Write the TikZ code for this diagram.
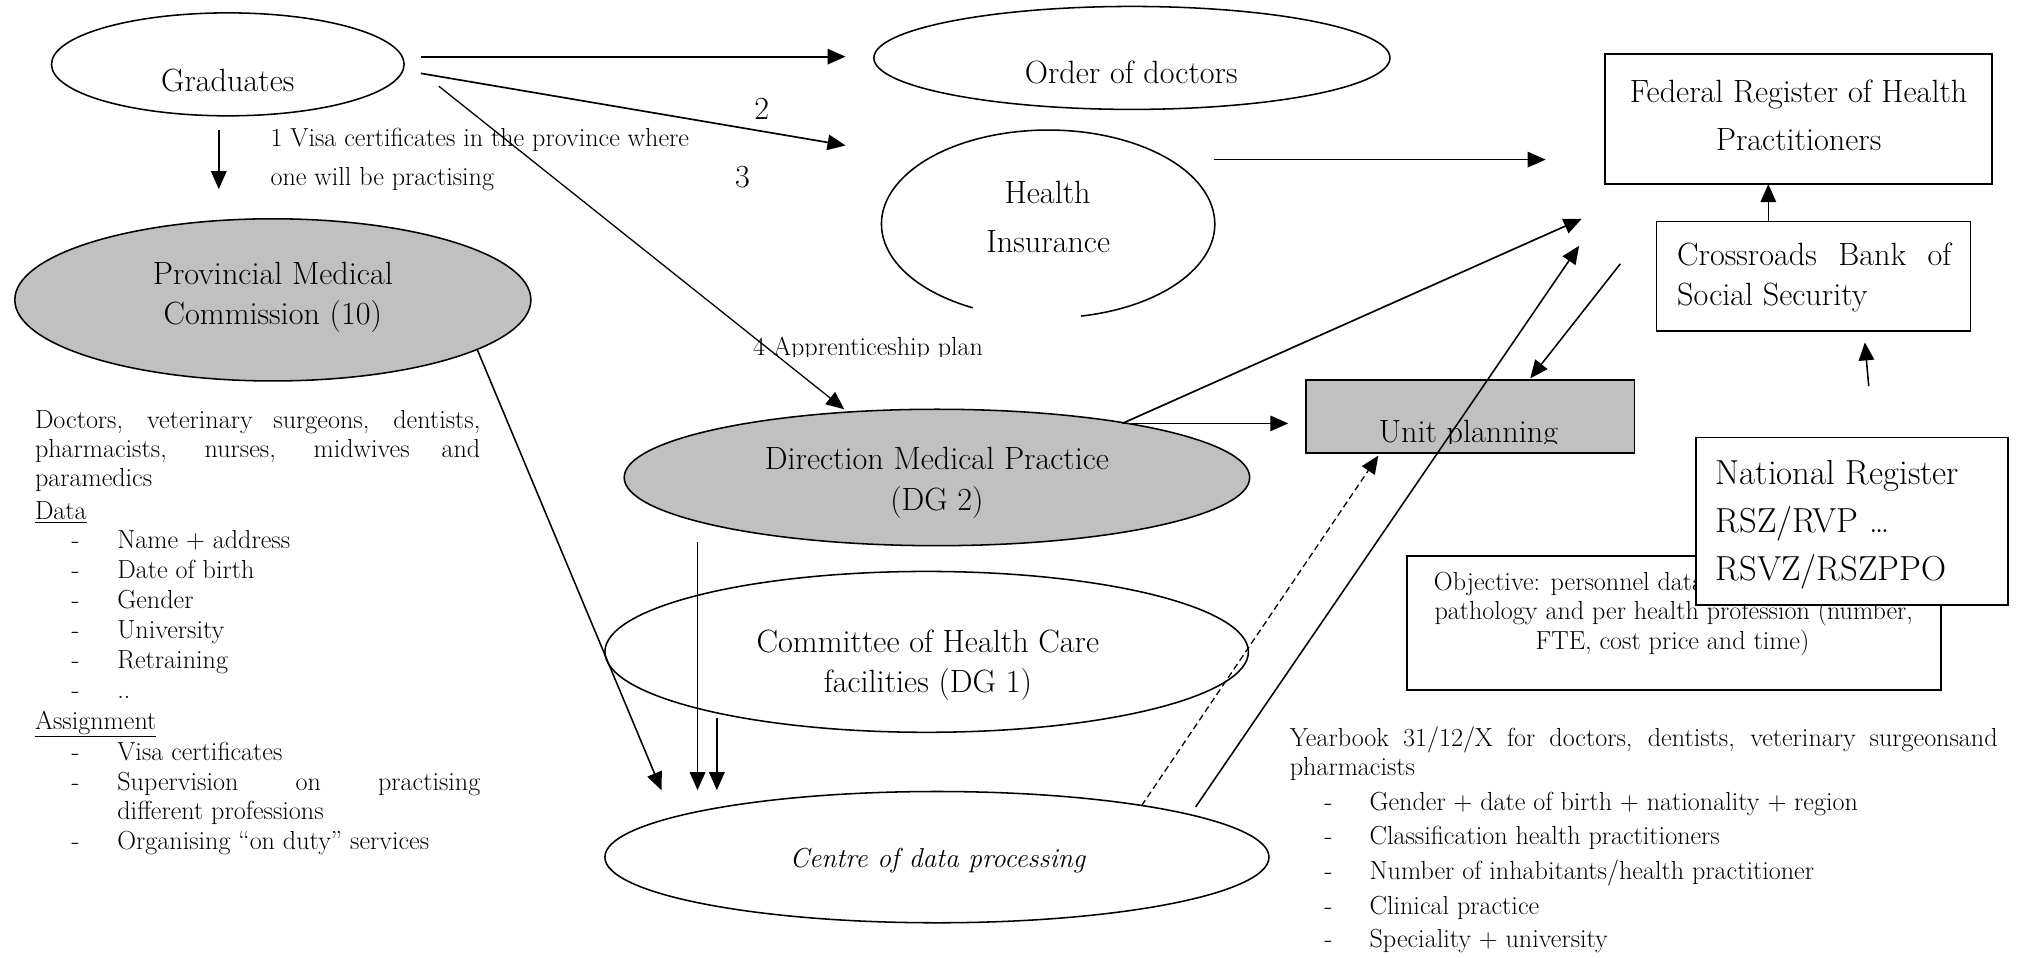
\documentclass[tikz,border=0pt]{standalone}
\usetikzlibrary{arrows.meta,shapes.geometric}
\definecolor{silv}{RGB}{192,192,192}
\newcommand\myBig{\fontsize{25}{30}\selectfont}
\newcommand\myIt{\fontsize{21.3}{26}\selectfont\itshape}
\newcommand\mySmall{\fontsize{20.3}{24}\selectfont}
\newcommand\myNat{\fontsize{27}{32}\selectfont}
\tikzset{
  ell/.style={draw, ellipse, inner sep=0pt, line width=1.2pt},
  box/.style={draw, rectangle, inner sep=0pt, line width=1.3pt},
  txt/.style={inner sep=0pt, anchor=base},
  ltxt/.style={inner sep=0pt, anchor=base west},
  arr/.style={-{Triangle[length=14pt,width=12pt]}, line width=1.4pt},
  thinarr/.style={-{Triangle[length=14pt,width=12pt]}, line width=1pt},
  dasharr/.style={thinarr, dash pattern=on 5pt off 3pt},
}
\begin{document}
\begin{tikzpicture}[x=1pt,y=-1pt]
\useasboundingbox (0,0) rectangle (1568,744);

% ---------- ellipses ----------
\node[ell, minimum width=274pt, minimum height=80pt] (grad) at (177,50) {};
\node[ell, minimum width=401pt, minimum height=80pt] (order) at (879.5,45) {};
\node[ellipse, inner sep=0pt, minimum width=259pt, minimum height=146pt] (hins) at (814.5,174) {};
\draw[line width=1.2pt] (840,245.6) arc[start angle=281.4, end angle=603.1, x radius=129.5pt, y radius=73pt];
\node[ell, fill=silv, minimum width=401pt, minimum height=126pt] (prov) at (212,233) {};
\node[ell, fill=silv, minimum width=486pt, minimum height=106pt] (dir) at (728,371) {};
\node[ell, minimum width=500pt, minimum height=125pt] (comm) at (720,506.5) {};
\node[ell, minimum width=516pt, minimum height=102pt] (cdp) at (728,666) {};

% ---------- boxes ----------
\node[box, minimum width=301pt, minimum height=101pt] (fed) at (1397.5,92.5) {};
\node[box, minimum width=244pt, minimum height=85pt] (cbss) at (1409,214.5) {};
\node[box, fill=silv, minimum width=255pt, minimum height=57pt] (unit) at (1142.5,323.5) {};
\node[box, minimum width=415pt, minimum height=104pt] (obj) at (1300.5,484) {};

% ---------- node texts ----------
\node[txt] (gradT) at (177,71) {\myBig Graduates};
\node[txt] (orderT) at (879,64.5) {\myBig Order of doctors};
\node[txt] (hinsT1) at (814,158.5) {\myBig Health};
\node[txt] (hinsT2) at (814.5,196) {\myBig Insurance};
\node[txt] (fedT1) at (1397.5,80) {\myBig Federal Register of Health};
\node[txt] (fedT2) at (1397.5,117) {\myBig Practitioners};
\node[ltxt] (cbssT1) at (1303,206) {\myBig\hbox to 213pt{Crossroads\hfill Bank\hfill of}};
\node[ltxt] (cbssT2) at (1303,237) {\myBig Social Security};
\node[txt] (provT1) at (212,221) {\myBig Provincial Medical};
\node[txt] (provT2) at (212,252) {\myBig Commission (10)};
\node[txt] (dirT1) at (728,365) {\myBig Direction Medical Practice};
\node[txt] (dirT2) at (728,397) {\myBig (DG 2)};
\node[txt] (commT1) at (721,507) {\myBig Committee of Health Care};
\node[txt] (commT2) at (721,538) {\myBig facilities (DG 1)};
\node[txt] (cdpT) at (728.5,674) {\myIt Centre of data processing};
\begin{scope}
  \clip (1016,296) rectangle (1269,344.3);
  \node[txt] (unitT) at (1141,343.5) {\myBig Unit planning};
\end{scope}

% objective box text
\node[ltxt] (objT1) at (1114,459) {\mySmall Objective: personnel data};
\node[txt] (objT2) at (1300.5,481.5) {\mySmall pathology and per health profession (number,};
\node[txt] (objT3) at (1299.5,505) {\mySmall FTE, cost price and time)};

% national register box on top
\node[box, fill=white, minimum width=242pt, minimum height=130pt] (nat) at (1439,405) {};
\node[ltxt] (natT1) at (1333,376.6) {\myNat National Register};
\node[ltxt] (natT2) at (1333,414) {\myNat RSZ/RVP \dots};
\node[ltxt] (natT3) at (1333,451) {\myNat RSVZ/RSZPPO};

% ---------- connector labels ----------
\node[ltxt] (lab1a) at (210,113.5) {\mySmall 1 Visa certificates in the province where};
\node[ltxt] (lab1b) at (210,144) {\mySmall one will be practising};
\node[ltxt] (lab2) at (586,93) {\myBig 2};
\node[ltxt] (lab3) at (571,145.5) {\myBig 3};
\begin{scope}
  \clip (580,250) rectangle (790,276.8);
  \node[ltxt] (lab4) at (585,276.5) {\mySmall 4 Apprenticeship plan};
\end{scope}

% ---------- left text block ----------
\node[ltxt] (l1) at (27,332.7) {\mySmall\hbox to 346pt{Doctors, veterinary surgeons, dentists,}};
\node[ltxt] (l2) at (27,355.4) {\mySmall\hbox to 346pt{pharmacists, nurses, midwives and}};
\node[ltxt] (l3) at (27,377.7) {\mySmall paramedics};
\node[ltxt] (l4) at (27,404) {\mySmall\underline{Data}};
\node[ltxt] (ld1) at (55.5,426) {\mySmall -};
\node[ltxt] (li1) at (91,426) {\mySmall Name + address};
\node[ltxt] (ld2) at (55.5,449.5) {\mySmall -};
\node[ltxt] (li2) at (91,449.5) {\mySmall Date of birth};
\node[ltxt] (ld3) at (55.5,472.8) {\mySmall -};
\node[ltxt] (li3) at (91,472.8) {\mySmall Gender};
\node[ltxt] (ld4) at (55.5,496) {\mySmall -};
\node[ltxt] (li4) at (91,496) {\mySmall University};
\node[ltxt] (ld5) at (55.5,519.4) {\mySmall -};
\node[ltxt] (li5) at (91,519.4) {\mySmall Retraining};
\node[ltxt] (ld6) at (55.5,542.7) {\mySmall -};
\node[ltxt] (li6) at (91,542.7) {\mySmall ..};
\node[ltxt] (l5) at (27,566.8) {\mySmall\underline{Assignment}};
\node[ltxt] (ld7) at (55.5,590.7) {\mySmall -};
\node[ltxt] (li7) at (91,590.7) {\mySmall Visa certificates};
\node[ltxt] (ld8) at (55.5,614) {\mySmall -};
\node[ltxt] (li8) at (91,614) {\mySmall\hbox to 282pt{Supervision\hfill on\hfill practising}};
\node[ltxt] (li8b) at (91,636.8) {\mySmall different professions};
\node[ltxt] (ld9) at (55.5,660) {\mySmall -};
\node[ltxt] (li9) at (91,660) {\mySmall Organising “on duty” services};

% ---------- yearbook text block ----------
\node[ltxt] (y1) at (1002,579.7) {\mySmall\hbox to 550pt{Yearbook 31/12/X for doctors, dentists, veterinary surgeonsand}};
\node[ltxt] (y2) at (1002,602.7) {\mySmall pharmacists};
\node[ltxt] (yd1) at (1029,630) {\mySmall -};
\node[ltxt] (yi1) at (1064,630) {\mySmall Gender + date of birth + nationality + region};
\node[ltxt] (yd2) at (1029,656.4) {\mySmall -};
\node[ltxt] (yi2) at (1064,656.4) {\mySmall Classification health practitioners};
\node[ltxt] (yd3) at (1029,683) {\mySmall -};
\node[ltxt] (yi3) at (1064,683) {\mySmall Number of inhabitants/health practitioner};
\node[ltxt] (yd4) at (1029,710.5) {\mySmall -};
\node[ltxt] (yi4) at (1064,710.5) {\mySmall Clinical practice};
\node[ltxt] (yd5) at (1029,736) {\mySmall -};
\node[ltxt] (yi5) at (1064,736) {\mySmall Speciality + university};

% ---------- connector end points ----------
\coordinate (aS) at (327,44);   \coordinate (aE) at (657,44);
\coordinate (bS) at (327,57);   \coordinate (bE) at (657,113);
\coordinate (cS) at (341,67);   \coordinate (cE) at (656,318);
\coordinate (dS) at (170,101);  \coordinate (dE) at (170,147);
\coordinate (eS) at (943,124);  \coordinate (eE) at (1201,124);
\coordinate (fS) at (872,329);  \coordinate (fE) at (1229,170);
\coordinate (gE) at (1001,329);
\coordinate (hS) at (929,627);  \coordinate (hE) at (1227,191);
\coordinate (iS) at (1259,205); \coordinate (iE) at (1189,294);
\coordinate (jS) at (887,626);  \coordinate (jE) at (1071,354);
\coordinate (kS) at (371,272);  \coordinate (kE) at (514,614);
\coordinate (l1S) at (542,421); \coordinate (l1E) at (542,614);
\coordinate (l2S) at (557,558); \coordinate (l2E) at (557,614);
\coordinate (mS) at (1374,172); \coordinate (mE) at (1374,143);
\coordinate (nS) at (1452,300); \coordinate (nE) at (1449,266);

% ---------- connectors ----------
\draw[arr] (aS) -- (aE);
\draw[arr, line width=1.3pt] (bS) -- (bE);
\draw[thinarr] (cS) -- (cE);
\draw[arr, line width=1.2pt] (dS) -- (dE);
\draw[arr] (eS) -- (eE);
\draw[arr, line width=1.3pt] (fS) -- (fE);
\draw[arr] (fS) -- (gE);
\draw[arr, line width=1.2pt] (hS) -- (hE);
\draw[arr, line width=1.2pt] (iS) -- (iE);
\draw[dasharr] (jS) -- (jE);
\draw[arr, line width=1.2pt] (kS) -- (kE);
\draw[arr] (l1S) -- (l1E);
\draw[arr] (l2S) -- (l2E);
\draw[arr, line width=1.2pt] (mS) -- (mE);
\draw[arr, line width=1.2pt] (nS) -- (nE);
\end{tikzpicture}
\end{document}
